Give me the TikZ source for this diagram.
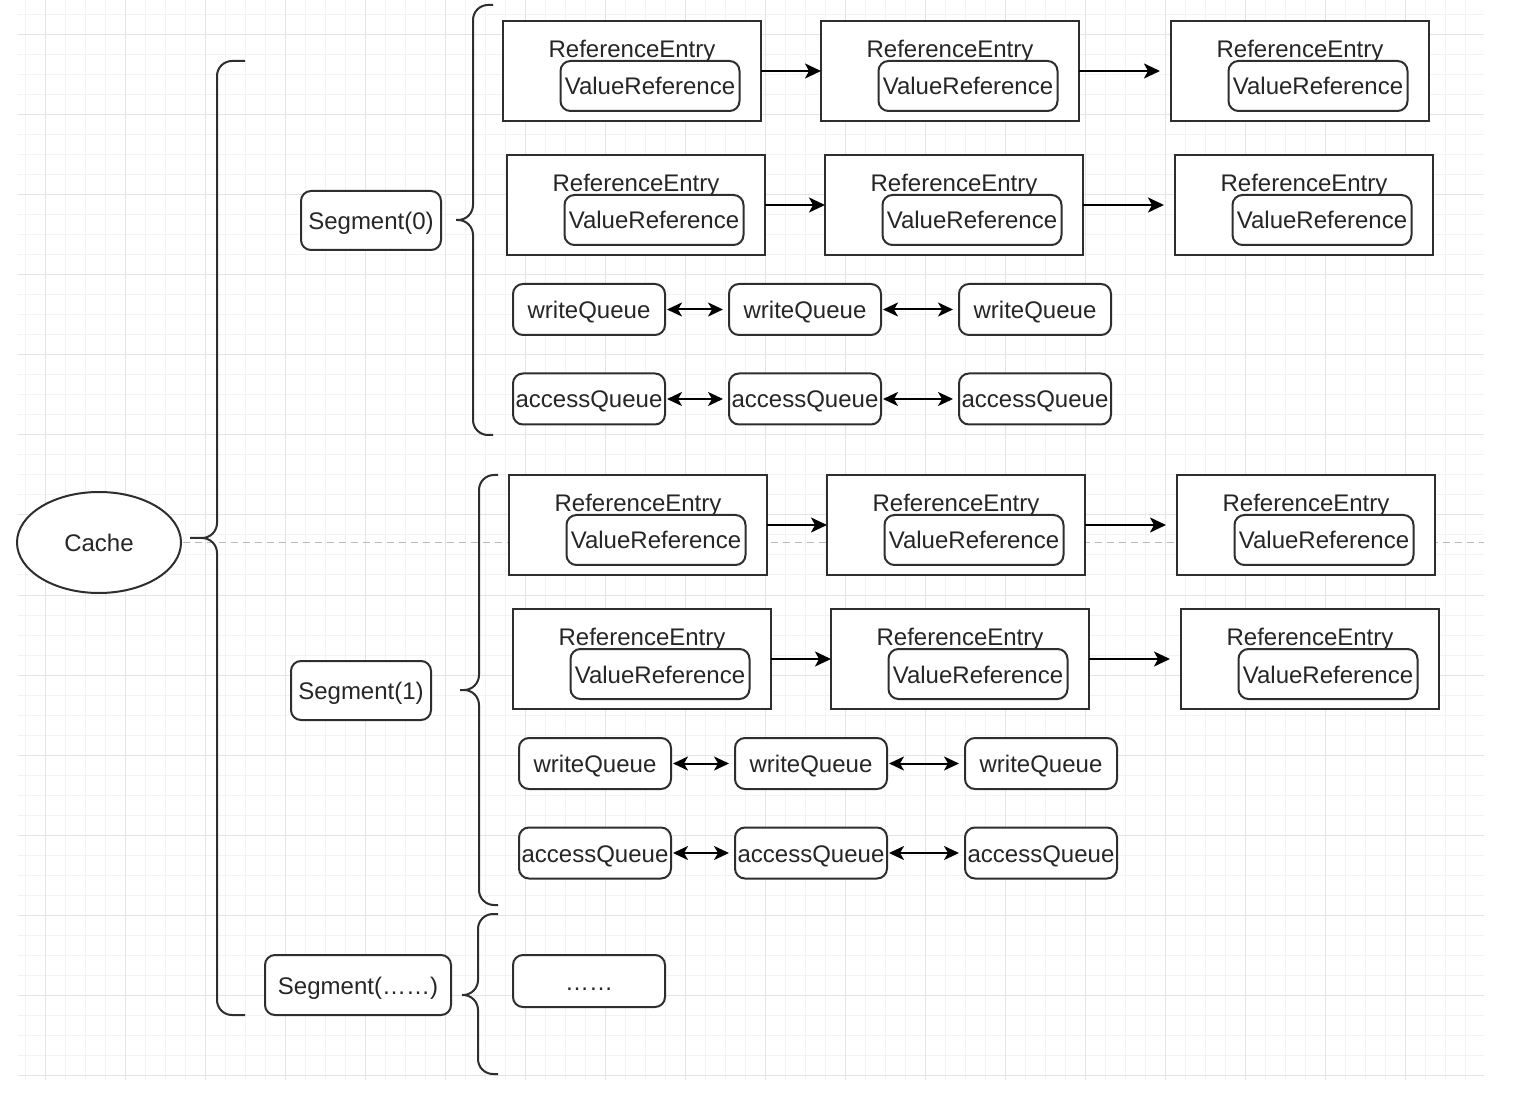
\documentclass[tikz,border=0pt]{standalone}
\usepackage{fontspec}
\setmainfont{Liberation Sans}
\usetikzlibrary{shapes.geometric, arrows.meta, positioning}
\definecolor{strokegray}{HTML}{2E2E2E}
\definecolor{gridminor}{HTML}{F3F3F3}
\definecolor{gridmajor}{HTML}{E4E4E4}
\tikzstyle{entry} = [rectangle, draw=strokegray, fill=white, line width=1pt, outer sep=0pt, minimum width=129pt, minimum height=50pt, inner sep=0pt, label={[anchor=center, yshift=-13.75pt, inner sep=0pt]north:ReferenceEntry}]
\tikzstyle{vref}  = [rectangle, rounded corners=5pt, draw=strokegray, fill=white, line width=1pt, outer sep=0pt, minimum width=89.5pt, minimum height=25pt, inner sep=0pt]
\tikzstyle{queue} = [rectangle, rounded corners=5pt, draw=strokegray, fill=white, line width=1pt, outer sep=0pt, minimum width=76pt, minimum height=25.5pt, inner sep=0pt]
\tikzstyle{seg}   = [rectangle, rounded corners=5pt, draw=strokegray, fill=white, line width=1pt, outer sep=0pt, minimum width=70pt, minimum height=29.5pt, inner sep=0pt]
\tikzstyle{arrow} = [line width=1pt, draw=black, -{Stealth[length=8pt, width=7.5pt, inset=2pt]}]
\tikzstyle{dbl}   = [line width=1pt, draw=black, {Stealth[length=7.5pt, width=7pt, inset=2pt]}-{Stealth[length=7.5pt, width=7pt, inset=2pt]}, shorten <=1pt, shorten >=3pt]
\tikzstyle{brace} = [line width=1pt, draw=strokegray, rounded corners=7.5pt]

\begin{document}
\begin{tikzpicture}[x=0.5pt, y=-0.5pt, node distance=30pt, every node/.style={font=\fontsize{12}{14}\selectfont, text=black!85, text height=10.5pt, text depth=1.5pt}]

  \useasboundingbox (0,0) rectangle (1516,1096);
  \fill[white] (0,0) rectangle (1516,1096);

  % grid and guide line
  \foreach \gx in {25,45,...,1465} \draw[gridminor, line width=0.5pt] (\gx,0) -- (\gx,1080);
  \foreach \gy in {15,35,...,1075} \draw[gridminor, line width=0.5pt] (18,\gy) -- (1484,\gy);
  \foreach \gx in {45,125,...,1445} \draw[gridmajor, line width=0.5pt] (\gx,0) -- (\gx,1080);
  \foreach \gy in {35,115,...,1075} \draw[gridmajor, line width=0.5pt] (18,\gy) -- (1484,\gy);
  \coordinate (guidestart) at (183,543);
  \coordinate (guideend) at (1484,543);
  \draw[gray!55, line width=0.5pt, dash pattern=on 3.5pt off 2.5pt] (guidestart) -- (guideend);

  % Cache and segments
  \node[ellipse, draw=strokegray, fill=white, line width=1pt, minimum width=82pt, minimum height=50.5pt, inner sep=0pt] (cache) at (99,542.5) {Cache};
  \node[seg] (seg0) at (371,220.5) {Segment(0)};
  \node[seg] (seg1) at (361,690.5) {Segment(1)};
  \node[seg, minimum width=93pt, minimum height=30pt] (segn) at (358,985) {Segment(……)};

  % braces
  \draw[brace] (245,61) -- (217,61) -- (217,538) -- (190,538) (190,538) -- (217,538) -- (217,1015) -- (245,1015);
  \draw[brace] (493,5) -- (473,5) -- (473,220) -- (456,220) (456,220) -- (473,220) -- (473,435) -- (493,435);
  \draw[brace] (498,475) -- (479,475) -- (479,690) -- (460,690) (460,690) -- (479,690) -- (479,905) -- (498,905);
  \draw[brace] (498,914) -- (478,914) -- (478,995) -- (462,995) (462,995) -- (478,995) -- (478,1074) -- (498,1074);

  % Segment(0) - entries
  \node[entry] (ea1) at (632,71) {};
  \node[entry, right=30pt of ea1] (ea2) {};
  \node[entry, right=46pt of ea2] (ea3) {};
  \node[vref] (va1) at ([shift={(18,15)}]ea1.center) {ValueReference};
  \node[vref] (va2) at ([shift={(18,15)}]ea2.center) {ValueReference};
  \node[vref] (va3) at ([shift={(18,15)}]ea3.center) {ValueReference};

  \node[entry] (eb1) at (636,205) {};
  \node[entry, right=30pt of eb1] (eb2) {};
  \node[entry, right=46pt of eb2] (eb3) {};
  \node[vref] (vb1) at ([shift={(18,15)}]eb1.center) {ValueReference};
  \node[vref] (vb2) at ([shift={(18,15)}]eb2.center) {ValueReference};
  \node[vref] (vb3) at ([shift={(18,15)}]eb3.center) {ValueReference};

  % Segment(0) - queues
  \node[queue] (wa1) at (589,309.5) {writeQueue};
  \node[queue, right=32pt of wa1] (wa2) {writeQueue};
  \node[queue, right=39pt of wa2] (wa3) {writeQueue};
  \node[queue] (aa1) at (589,399) {accessQueue};
  \node[queue, right=32pt of aa1] (aa2) {accessQueue};
  \node[queue, right=39pt of aa2] (aa3) {accessQueue};

  % Segment(1) - entries
  \node[entry] (ec1) at (638,525) {};
  \node[entry, right=30pt of ec1] (ec2) {};
  \node[entry, right=46pt of ec2] (ec3) {};
  \node[vref] (vc1) at ([shift={(18,15)}]ec1.center) {ValueReference};
  \node[vref] (vc2) at ([shift={(18,15)}]ec2.center) {ValueReference};
  \node[vref] (vc3) at ([shift={(18,15)}]ec3.center) {ValueReference};

  \node[entry] (ed1) at (642,659) {};
  \node[entry, right=30pt of ed1] (ed2) {};
  \node[entry, right=46pt of ed2] (ed3) {};
  \node[vref] (vd1) at ([shift={(18,15)}]ed1.center) {ValueReference};
  \node[vref] (vd2) at ([shift={(18,15)}]ed2.center) {ValueReference};
  \node[vref] (vd3) at ([shift={(18,15)}]ed3.center) {ValueReference};

  % Segment(1) - queues
  \node[queue] (wb1) at (595,763.5) {writeQueue};
  \node[queue, right=32pt of wb1] (wb2) {writeQueue};
  \node[queue, right=39pt of wb2] (wb3) {writeQueue};
  \node[queue] (ab1) at (595,853) {accessQueue};
  \node[queue, right=32pt of ab1] (ab2) {accessQueue};
  \node[queue, right=39pt of ab2] (ab3) {accessQueue};

  % Segment(......)
  \node[queue, minimum height=26pt] (dots) at (589,981) {……};

  % Arrows
  \draw[arrow] (ea1) -- (ea2);
  \draw[arrow, shorten >=5.5pt] (ea2) -- (ea3);
  \draw[arrow] (eb1) -- (eb2);
  \draw[arrow, shorten >=5.5pt] (eb2) -- (eb3);
  \draw[dbl] (wa1) -- (wa2);
  \draw[dbl] (wa2) -- (wa3);
  \draw[dbl] (aa1) -- (aa2);
  \draw[dbl] (aa2) -- (aa3);
  \draw[arrow] (ec1) -- (ec2);
  \draw[arrow, shorten >=5.5pt] (ec2) -- (ec3);
  \draw[arrow] (ed1) -- (ed2);
  \draw[arrow, shorten >=5.5pt] (ed2) -- (ed3);
  \draw[dbl] (wb1) -- (wb2);
  \draw[dbl] (wb2) -- (wb3);
  \draw[dbl] (ab1) -- (ab2);
  \draw[dbl] (ab2) -- (ab3);

\end{tikzpicture}
\end{document}
